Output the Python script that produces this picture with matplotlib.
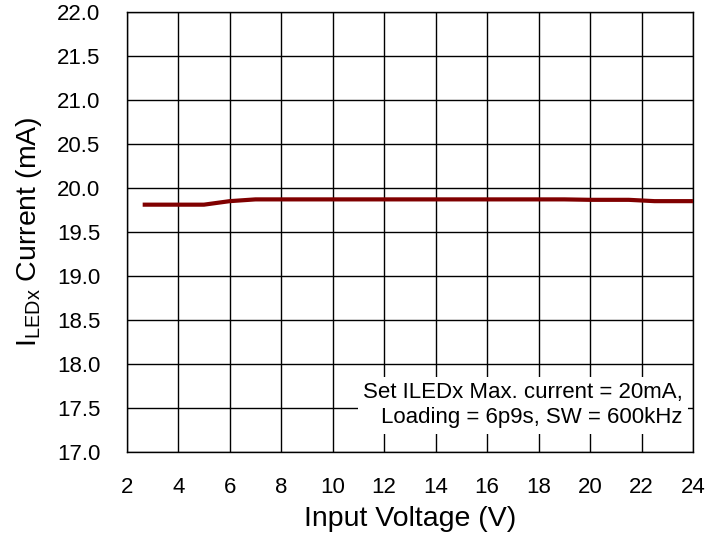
import numpy as np
import matplotlib.pyplot as plt

plt.rcParams['font.family'] = ['Liberation Sans', 'DejaVu Sans']
plt.rcParams['mathtext.fontset'] = 'custom'
plt.rcParams['mathtext.rm'] = 'Liberation Sans'

# data
vin = [2.7, 3.0, 4.0, 5.0, 6.0, 7.0, 8.0, 10.0, 12.0, 14.0, 16.0, 18.0, 19.0, 20.0, 21.5, 22.5, 23.0, 24.0]
iled = [19.81, 19.81, 19.81, 19.81, 19.85, 19.87, 19.87, 19.87, 19.87, 19.87, 19.87, 19.87, 19.87, 19.865, 19.865, 19.85, 19.85, 19.85]

x_ticks = np.arange(2, 25, 2)
y_ticks = np.arange(17.0, 22.01, 0.5)

fig = plt.figure(figsize=(7.08, 5.41), dpi=100)
ax = fig.add_axes([0.179, 0.1645, 0.800, 0.8135])

ax.plot(vin, iled, color='#800000', lw=3, zorder=3)

ax.set_xlim(2, 24)
ax.set_ylim(17, 22)
ax.set_xticks(x_ticks)
ax.set_yticks(y_ticks)
ax.set_yticklabels(['%.1f' % v for v in y_ticks])
ax.tick_params(length=0, labelsize=16)
ax.tick_params(axis='x', pad=18)
ax.tick_params(axis='y', pad=19)
ax.grid(True, color='black', lw=1)
for s in ax.spines.values():
    s.set_color('black')
    s.set_linewidth(1)

ax.set_xlabel('Input Voltage (V)', fontsize=20.5, labelpad=6)
ax.set_ylabel(r'I$_{\rm LEDx}$ Current (mA)', fontsize=20.5, labelpad=9)

ax.text(23.6, 17.53, 'Set ILEDx Max. current = 20mA,\nLoading = 6p9s, SW = 600kHz',
        fontsize=16, ha='right', va='center', multialignment='right', linespacing=1.25,
        bbox=dict(boxstyle='square,pad=0.25', fc='white', ec='none'), zorder=4)

fig.savefig('out.png', dpi=100)
